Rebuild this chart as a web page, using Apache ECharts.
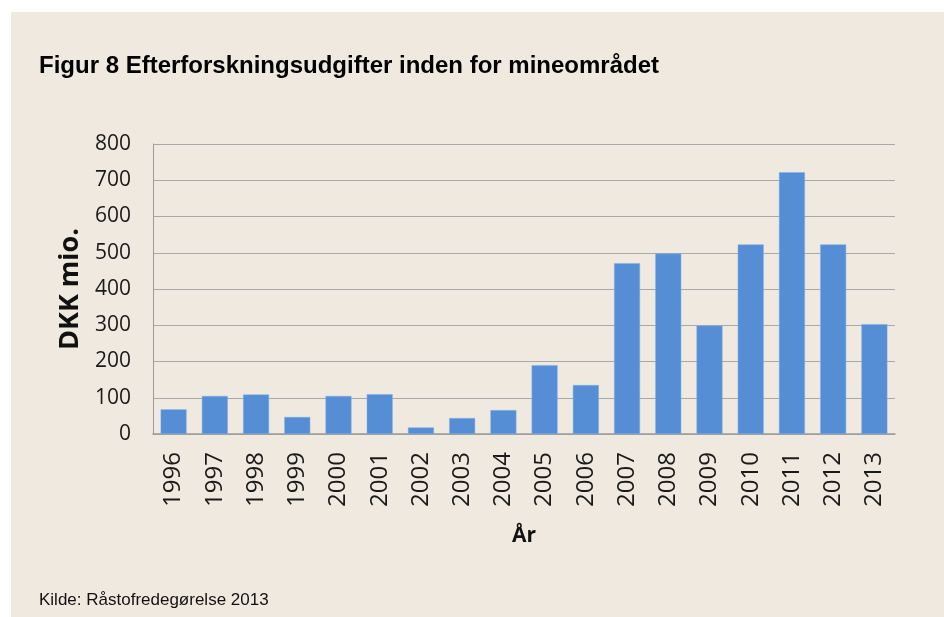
<!DOCTYPE html>
<html>
<head>
<meta charset="utf-8">
<script src="https://cdn.jsdelivr.net/npm/echarts@6/dist/echarts.min.js"></script>
<style>
  html, body { margin: 0; padding: 0; background: #ffffff; }
  #frame { position: absolute; left: 11px; top: 12px; width: 933px; height: 605px; background: #f0e9df; }
  #chart { position: absolute; left: 0; top: 0; width: 944px; height: 617px; }
</style>
</head>
<body>
<div id="frame"></div>
<div id="chart"></div>
<script>
// data
var years = ['1996', '1997', '1998', '1999', '2000', '2001', '2002', '2003', '2004',
    '2005', '2006', '2007', '2008', '2009', '2010', '2011', '2012', '2013'];
var udgifter = [68, 105, 109, 47, 105, 110, 18, 44, 66,
    190, 135, 471, 498, 299, 523, 722, 523, 303];
var yTicks = [0, 800, 100]; // min, max, interval

var titleText = 'Figur 8 Efterforskningsudgifter inden for mineområdet';
var sourceText = 'Kilde: Råstofredegørelse 2013';

var chart = echarts.init(document.getElementById('chart'), null, { renderer: 'canvas' });

chart.setOption({
    backgroundColor: 'transparent',
    animation: false,
    title: [{
        text: titleText,
        left: 34,
        top: 49,
        textStyle: { fontFamily: 'Liberation Sans', fontSize: 24, fontWeight: 'bold', color: '#000' }
    }, {
        text: sourceText,
        left: 34,
        top: 587,
        textStyle: { fontFamily: 'Liberation Sans', fontSize: 17, fontWeight: 'normal', color: '#111' }
    }],
    grid: { left: 153, right: 49, top: 144, bottom: 183 },
    xAxis: {
        type: 'category',
        data: years,
        name: 'År',
        nameLocation: 'middle',
        nameGap: 92,
        nameTextStyle: { fontFamily: 'Open Sans', fontSize: 21, fontWeight: 'bold', color: '#111' },
        axisLine: { lineStyle: { color: '#9a9a9a', width: 1.5 } },
        axisTick: { show: false },
        axisLabel: {
            rotate: 90,
            margin: 18,
            fontFamily: 'Open Sans',
            fontSize: 24,
            color: '#1a1a1a'
        }
    },
    yAxis: {
        type: 'value',
        min: yTicks[0],
        max: yTicks[1],
        interval: yTicks[2],
        name: 'DKK mio.',
        nameLocation: 'middle',
        nameRotate: 90,
        nameGap: 68,
        nameTextStyle: { fontFamily: 'Open Sans', fontSize: 27, fontWeight: 'bold', color: '#111' },
        axisLine: { show: true, lineStyle: { color: '#9a9a9a', width: 1 } },
        axisTick: { show: false },
        splitLine: { lineStyle: { color: '#a8a8a8', width: 1.2 } },
        axisLabel: {
            margin: 22,
            fontFamily: 'Open Sans',
            fontSize: 21,
            color: '#1a1a1a'
        }
    },
    series: [{
        type: 'bar',
        data: udgifter,
        barCategoryGap: '37%',
        itemStyle: { color: '#558ed5', borderColor: '#7fb0ea', borderWidth: 0.5 }
    }]
});
</script>
</body>
</html>
